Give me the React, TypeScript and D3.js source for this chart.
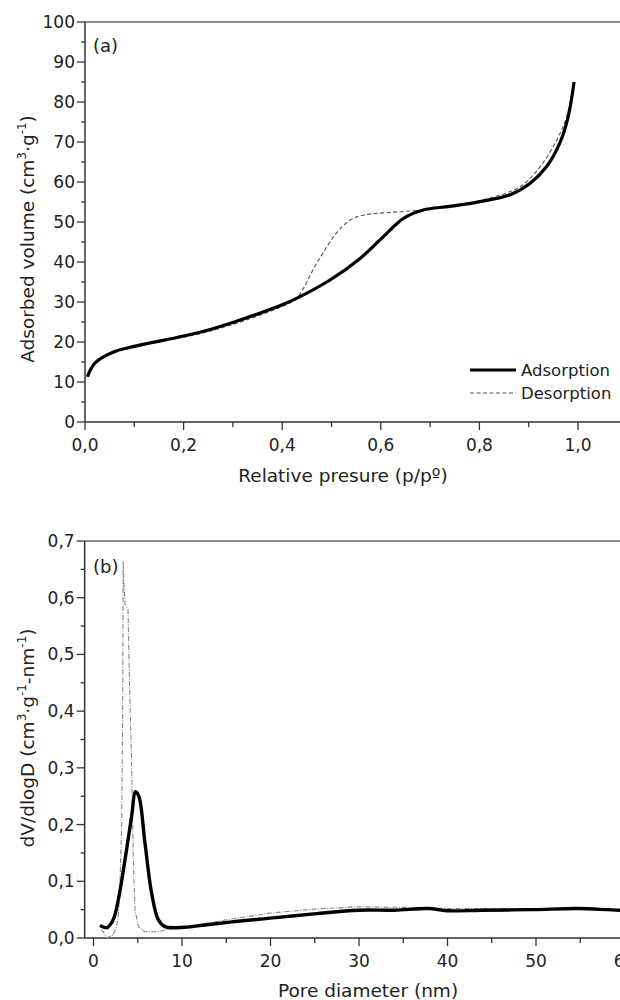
import React, { useEffect, useRef } from 'react';
import * as d3 from 'd3';

// (a) isotherm
const adsP = [0.005, 0.02, 0.06, 0.1, 0.2, 0.25, 0.3, 0.35, 0.4, 0.429, 0.497, 0.558, 0.605, 0.646, 0.686, 0.74, 0.801, 0.862, 0.903, 0.936, 0.963, 0.98, 0.992];
const adsV = [11.3, 14.7, 17.6, 18.9, 21.5, 23, 24.9, 27, 29.3, 30.9, 35.5, 40.9, 46.3, 50.9, 53, 53.9, 55.1, 56.8, 59.7, 63.8, 69.7, 76.3, 85];
const desP = [0.992, 0.977, 0.957, 0.923, 0.882, 0.8, 0.74, 0.686, 0.619, 0.564, 0.538, 0.51, 0.47, 0.429, 0.4, 0.35, 0.3, 0.25, 0.2, 0.1, 0.05, 0.02, 0.005];
const desV = [85, 76.3, 70.5, 63.8, 58.8, 55.3, 54, 53, 52.4, 51.7, 50.5, 47.2, 39.7, 30.9, 28.9, 26.5, 24.4, 22.6, 21.2, 18.7, 16.8, 14.5, 11.3];

// (b) pore size distribution
const psdAdsD = [0.73, 1.49, 1.86, 2.3, 2.8, 3.56, 4.3, 4.76, 5.14, 5.82, 6.57, 7.33, 8.08, 10.3, 12.6, 16, 20, 25.2, 30, 34, 37.9, 39.9, 43.8, 49.7, 54.8, 59.5, 64];
const psdAdsV = [0.022, 0.018, 0.023, 0.035, 0.067, 0.138, 0.214, 0.258, 0.249, 0.167, 0.079, 0.032, 0.02, 0.019, 0.023, 0.029, 0.035, 0.043, 0.049, 0.049, 0.052, 0.048, 0.049, 0.05, 0.052, 0.049, 0.05];
const psdDesD = [0.9, 1.1, 1.5, 2.2, 2.6, 2.8, 3.0, 3.18, 3.3, 3.35, 3.45, 3.55, 3.7, 3.9, 4.0, 4.15, 4.3, 4.5, 4.69, 5.07, 5.8, 7.3, 8.8, 10, 12, 15, 20, 25, 30, 35, 40, 45, 50, 55, 60, 64];
const psdDesV = [0.015, 0.011, 0, 0.005, 0.02, 0.038, 0.1, 0.196, 0.4, 0.665, 0.62, 0.59, 0.585, 0.58, 0.5, 0.4, 0.314, 0.138, 0.05, 0.02, 0.011, 0.011, 0.017, 0.019, 0.024, 0.032, 0.044, 0.051, 0.055, 0.054, 0.052, 0.052, 0.052, 0.051, 0.05, 0.05];

const presTicks = [0, 0.2, 0.4, 0.6, 0.8, 1.0];
const presMinor = [0.1, 0.3, 0.5, 0.7, 0.9];
const volTicks = [0, 10, 20, 30, 40, 50, 60, 70, 80, 90, 100];
const volMinor = [5, 15, 25, 35, 45, 55, 65, 75, 85, 95];
const poreTicks = [0, 10, 20, 30, 40, 50, 60];
const poreMinor = [5, 15, 25, 35, 45, 55];
const dvTicks = [0, 0.1, 0.2, 0.3, 0.4, 0.5, 0.6, 0.7];
const dvMinor = [0.05, 0.15, 0.25, 0.35, 0.45, 0.55, 0.65];

const font = '"DejaVu Sans", Arial, sans-serif';
const comma = (d: number) => d3.format('.1f')(d).replace('.', ',');

const App = () => {
    const svgRef = useRef<SVGSVGElement>(null);

    useEffect(() => {
        const svg = d3.select(svgRef.current);
        svg.selectAll('*').remove();

        // ---- panel (a)
        const xa = d3.scaleLinear().domain([0, 1.1]).range([85, 627.3]);
        const ya = d3.scaleLinear().domain([0, 100]).range([422, 22]);
        // ---- panel (b)
        const xb = d3.scaleLinear().domain([-1, 65]).range([84.65, 668.75]);
        const yb = d3.scaleLinear().domain([0, 0.7]).range([938, 541]);

        function drawAxes(x, y, xt, xm, yt, ym, xfmt, yfmt) {
            const g = svg.append('g').style('font-family', font);
            const [y0, y1] = y.range();
            const [x0, x1] = x.range();
            g.append('line').attr('x1', x0).attr('x2', x1).attr('y1', y1).attr('y2', y1)
                .attr('stroke', '#666').attr('stroke-width', 1.5);
            g.append('line').attr('x1', x0).attr('x2', x1).attr('y1', y0).attr('y2', y0)
                .attr('stroke', '#333').attr('stroke-width', 1.5);
            g.append('line').attr('x1', x0).attr('x2', x0).attr('y1', y0).attr('y2', y1)
                .attr('stroke', '#333').attr('stroke-width', 1.5);

            g.selectAll('.xt').data(xt).enter().append('line')
                .attr('x1', d => x(d)).attr('x2', d => x(d)).attr('y1', y0).attr('y2', y0 + 8)
                .attr('stroke', '#333').attr('stroke-width', 1.3);
            g.selectAll('.xm').data(xm).enter().append('line')
                .attr('x1', d => x(d)).attr('x2', d => x(d)).attr('y1', y0).attr('y2', y0 + 5)
                .attr('stroke', '#333').attr('stroke-width', 1.3);
            g.selectAll('.xl').data(xt).enter().append('text')
                .attr('x', d => x(d)).attr('y', y0 + 29)
                .attr('text-anchor', 'middle').attr('font-size', 17).attr('fill', '#222')
                .text(xfmt);

            g.selectAll('.yt').data(yt).enter().append('line')
                .attr('x1', x0 - 8).attr('x2', x0).attr('y1', d => y(d)).attr('y2', d => y(d))
                .attr('stroke', '#333').attr('stroke-width', 1.3);
            g.selectAll('.ym').data(ym).enter().append('line')
                .attr('x1', x0 - 4).attr('x2', x0).attr('y1', d => y(d)).attr('y2', d => y(d))
                .attr('stroke', '#333').attr('stroke-width', 1.3);
            g.selectAll('.yl').data(yt).enter().append('text')
                .attr('x', x0 - 10).attr('y', d => y(d) + 6)
                .attr('text-anchor', 'end').attr('font-size', 17).attr('fill', '#222')
                .text(yfmt);
        }

        drawAxes(xa, ya, presTicks, presMinor, volTicks, volMinor, comma, d => String(d));
        drawAxes(xb, yb, poreTicks, poreMinor, dvTicks, dvMinor, d => String(d), comma);

        // smooth curves through the read-off points
        const smooth = (x, y) => d3.line<[number, number]>()
            .x(d => x(d[0])).y(d => y(d[1])).curve(d3.curveCatmullRom.alpha(0.5));
        const straight = (x, y) => d3.line<[number, number]>()
            .x(d => x(d[0])).y(d => y(d[1]));

        const desA = desP.map((p, i) => [p, desV[i]] as [number, number]);
        const adsA = adsP.map((p, i) => [p, adsV[i]] as [number, number]);
        svg.append('path').attr('d', smooth(xa, ya)(desA))
            .attr('fill', 'none').attr('stroke', '#555').attr('stroke-width', 1.1)
            .attr('stroke-dasharray', '4,2.5');
        svg.append('path').attr('d', smooth(xa, ya)(adsA))
            .attr('fill', 'none').attr('stroke', '#000').attr('stroke-width', 3.2);

        const desB = psdDesD.map((p, i) => [p, psdDesV[i]] as [number, number]);
        const adsB = psdAdsD.map((p, i) => [p, psdAdsV[i]] as [number, number]);
        svg.append('clipPath').attr('id', 'clipb').append('rect')
            .attr('x', 85).attr('y', 530).attr('width', 600).attr('height', 410);
        svg.append('path').attr('d', straight(xb, yb)(desB))
            .attr('fill', 'none').attr('stroke', '#888').attr('stroke-width', 1.1)
            .attr('stroke-dasharray', '5,1.5,1,1.5').attr('clip-path', 'url(#clipb)');
        svg.append('path').attr('d', smooth(xb, yb)(adsB))
            .attr('fill', 'none').attr('stroke', '#000').attr('stroke-width', 3.4)
            .attr('clip-path', 'url(#clipb)');

        // legend (a)
        const lg = svg.append('g').style('font-family', font);
        lg.append('line').attr('x1', 470).attr('x2', 516).attr('y1', 370).attr('y2', 370)
            .attr('stroke', '#000').attr('stroke-width', 3.2);
        lg.append('line').attr('x1', 470).attr('x2', 516).attr('y1', 393).attr('y2', 393)
            .attr('stroke', '#555').attr('stroke-width', 1.1).attr('stroke-dasharray', '4,2.5');
        lg.append('text').attr('x', 521).attr('y', 376).attr('font-size', 16.5).attr('fill', '#222').text('Adsorption');
        lg.append('text').attr('x', 521).attr('y', 399).attr('font-size', 16.5).attr('fill', '#222').text('Desorption');

        // panel labels
        svg.append('text').attr('x', 93).attr('y', 52).attr('font-size', 18).attr('fill', '#222')
            .style('font-family', font).text('(a)');
        svg.append('text').attr('x', 93).attr('y', 573).attr('font-size', 18).attr('fill', '#222')
            .style('font-family', font).text('(b)');

        // axis titles
        svg.append('text').attr('x', 343).attr('y', 482).attr('text-anchor', 'middle')
            .attr('font-size', 18.5).attr('fill', '#222').style('font-family', font)
            .text('Relative presure (p/pº)');
        svg.append('text').attr('x', 368).attr('y', 997).attr('text-anchor', 'middle')
            .attr('font-size', 18.5).attr('fill', '#222').style('font-family', font)
            .text('Pore diameter (nm)');

        const ta = svg.append('text').attr('transform', 'translate(34,239) rotate(-90)')
            .attr('text-anchor', 'middle').attr('font-size', 18.5).attr('fill', '#222')
            .style('font-family', font);
        ta.append('tspan').text('Adsorbed volume (cm');
        ta.append('tspan').attr('dy', -8).attr('font-size', 12).text('3');
        ta.append('tspan').attr('dy', 8).text('·g');
        ta.append('tspan').attr('dy', -8).attr('font-size', 12).text('-1');
        ta.append('tspan').attr('dy', 8).text(')');

        const tb = svg.append('text').attr('transform', 'translate(34,738) rotate(-90)')
            .attr('text-anchor', 'middle').attr('font-size', 18.5).attr('fill', '#222')
            .style('font-family', font);
        tb.append('tspan').text('dV/dlogD (cm');
        tb.append('tspan').attr('dy', -8).attr('font-size', 12).text('3');
        tb.append('tspan').attr('dy', 8).text('·g');
        tb.append('tspan').attr('dy', -8).attr('font-size', 12).text('-1');
        tb.append('tspan').attr('dy', 8).text('-nm');
        tb.append('tspan').attr('dy', -8).attr('font-size', 12).text('-1');
        tb.append('tspan').attr('dy', 8).text(')');
    }, []);

    return (
        <svg ref={svgRef} width={620} height={1000}
             style={{position: 'absolute', left: 0, top: 0, background: '#fff'}}/>
    );
};

export default App;
